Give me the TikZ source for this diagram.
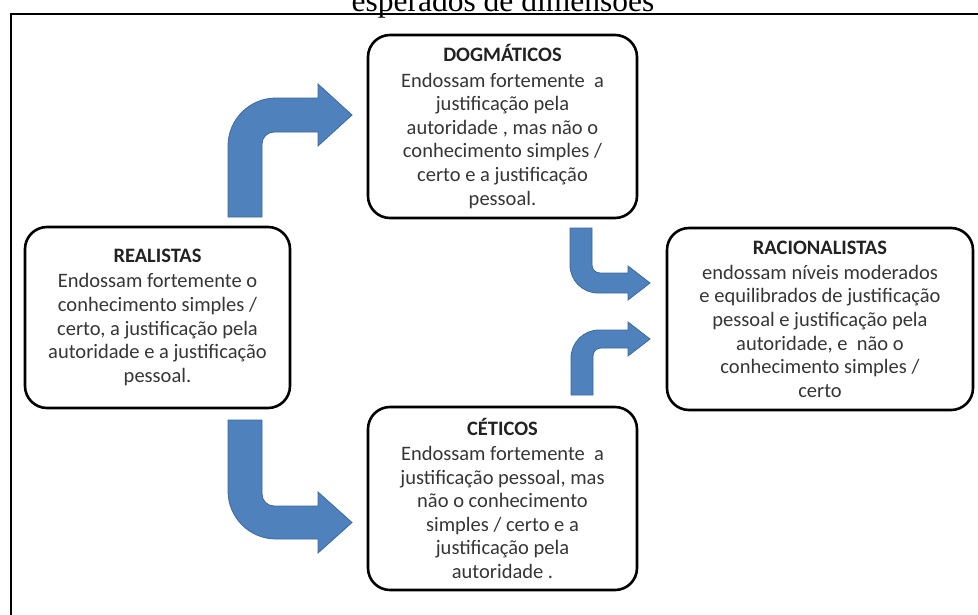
\documentclass[tikz,border=0pt]{standalone}
\usepackage{fontspec}
\setmainfont{Carlito}
\newfontfamily\titlefont{Liberation Serif}
\definecolor{arrowblue}{HTML}{4F81BD}
\definecolor{arrowedge}{HTML}{3A6A9F}
\definecolor{bodytext}{HTML}{363636}
\definecolor{headtext}{HTML}{222222}
\tikzset{
  boxnode/.style={draw=black, line width=2.6pt, rounded corners=22pt, fill=white,
    align=center, inner sep=0pt, text=bodytext,
    font=\fontsize{20.5}{23.6}\selectfont},
  blockarrow/.style={fill=arrowblue, draw=arrowedge, line width=0.8pt, line join=miter},
  frameline/.style={draw=black, line width=2pt}
}
\newcommand{\hd}[1]{\textbf{\color{headtext}#1}\\[1.5pt]}
\begin{document}
\begin{tikzpicture}[x=1pt,y=1pt]
\useasboundingbox (0,0) rectangle (978,-614);
\clip (0,0) rectangle (978,-614);
\fill[white] (0,0) rectangle (978,-614);
% partial title
\node[anchor=base, inner sep=0pt, font=\titlefont\fontsize{31.5}{34}\selectfont] (title) at (503,-11) {esperados de dimensões};
% frame
\coordinate (fA) at (11,-620);
\coordinate (fB) at (11,-14);
\coordinate (fC) at (985,-14);
\draw[frameline] (fA) -- (fB) -- (fC);
% boxes
\node[boxnode, minimum width=269pt, minimum height=183pt] (dog) at (502.5,-126.5)
 {\hd{DOGMÁTICOS}Endossam fortemente \ a\\ justificação pela\\ autoridade , mas não o\\ conhecimento simples /\\ certo e a justificação\\ pessoal.};
\node[boxnode, minimum width=265pt, minimum height=181pt] (real) at (157.5,-317.5)
 {\hd{REALISTAS}Endossam fortemente o\\ conhecimento simples /\\ certo, a justificação pela\\ autoridade e a justificação\\ pessoal.};
\node[boxnode, minimum width=306pt, minimum height=182pt] (rac) at (820,-319)
 {\hd{RACIONALISTAS}endossam níveis moderados\\ e equilibrados de justificação\\ pessoal e justificação pela\\ autoridade, e \ não o\\ conhecimento simples /\\ certo};
\node[boxnode, minimum width=269pt, minimum height=183pt] (cet) at (502.5,-498.5)
 {\hd{CÉTICOS}Endossam fortemente \ a\\ justificação pessoal, mas\\ não o conhecimento\\ simples / certo e a\\ justificação pela\\ autoridade .};
% arrow 1: realistas -> dogmaticos (up, then right)
\draw[blockarrow] (228,-217) -- (228,-146) arc[start angle=180, end angle=90, radius=48]
  -- (318,-98) -- (318,-84) -- (352,-115) -- (318,-146) -- (318,-132) -- (274,-132)
  arc[start angle=90, end angle=180, radius=12] -- (262,-217) -- cycle;
% arrow 2: realistas -> ceticos (down, then right)
\draw[blockarrow] (228,-420) -- (228,-491) arc[start angle=180, end angle=270, radius=48]
  -- (318,-539) -- (318,-553) -- (352,-522.5) -- (318,-492) -- (318,-506) -- (274,-506)
  arc[start angle=270, end angle=180, radius=12] -- (262,-420) -- cycle;
% arrow 3: dogmaticos -> racionalistas (down, then right)
\draw[blockarrow] (570,-228) -- (570,-265) arc[start angle=180, end angle=270, radius=28]
  -- (628,-293) -- (628,-300) -- (650,-283) -- (628,-266) -- (628,-273) -- (600,-273)
  arc[start angle=270, end angle=180, radius=8] -- (592,-228) -- cycle;
% arrow 4: ceticos -> racionalistas (up, then right)
\draw[blockarrow] (571,-395) -- (571,-358) arc[start angle=180, end angle=90, radius=28]
  -- (628,-330) -- (628,-322) -- (650,-339) -- (628,-356) -- (628,-348) -- (601,-348)
  arc[start angle=90, end angle=180, radius=8] -- (593,-395) -- cycle;
\end{tikzpicture}
\end{document}
